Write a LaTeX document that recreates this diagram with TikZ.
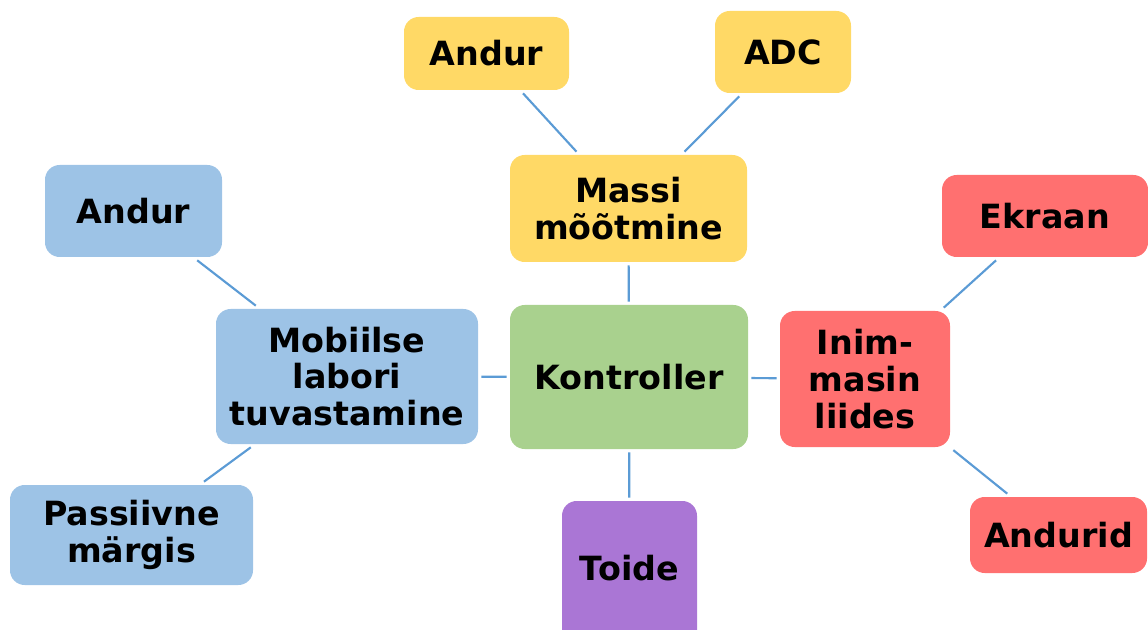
\documentclass[tikz,border=0pt]{standalone}
\usepackage{fontspec}
\setmainfont{DejaVu Sans}
\usepackage{tikz}
\usetikzlibrary{shapes}

\definecolor{kollane}{HTML}{FFD966}
\definecolor{sinine}{HTML}{9DC3E6}
\definecolor{roheline}{HTML}{A9D18E}
\definecolor{punane}{HTML}{FF7070}
\definecolor{lilla}{HTML}{AA76D5}
\definecolor{joonevarv}{HTML}{5B9BD5}

\tikzstyle{plokk}=[rectangle,rounded corners=11pt,inner sep=0pt,outer sep=2.5pt,
        align=center,text=black,font=\fontsize{25}{27.5}\selectfont\bfseries]
\tikzstyle{mass}=[plokk,fill=kollane]
\tikzstyle{mobiil}=[plokk,fill=sinine]
\tikzstyle{kesk}=[plokk,fill=roheline]
\tikzstyle{liides}=[plokk,fill=punane]
\tikzstyle{toide}=[plokk,fill=lilla]
\tikzstyle{seos}=[draw=joonevarv,line width=1.6pt]

\begin{document}
\begin{tikzpicture}[x=0.75pt,y=-0.75pt]
\useasboundingbox (0,0) rectangle (1148,630);
\node[kesk,minimum width=178.5pt,minimum height=108pt] (kontroller) at (629,377) {Kontroller};
\node[mass,minimum width=177.75pt,minimum height=80.25pt] (massi) at (628.5,208.5) {Massi\\mõõtmine};
\node[mass,minimum width=123.75pt,minimum height=54.75pt] (andurM) at (486.5,53.5) {Andur};
\node[mass,minimum width=102pt,minimum height=61.5pt] (adc) at (783,52) {ADC};
\node[mobiil,minimum width=196.5pt,minimum height=101.25pt] (mobiilse) at (347,376.5) {Mobiilse\\labori\\tuvastamine};
\node[mobiil,minimum width=132.75pt,minimum height=69pt] (andurL) at (133.5,211) {Andur};
\node[mobiil,minimum width=182.25pt,minimum height=75pt] (passiivne) at (131.5,535) {Passiivne\\märgis};
\node[liides,minimum width=127.5pt,minimum height=102pt] (inim) at (865,379) {Inim-\\masin\\liides};
\node[liides,minimum width=154.5pt,minimum height=61.5pt] (ekraan) at (1045,216) {Ekraan};
\node[liides,minimum width=132.75pt,minimum height=57pt] (andurid) at (1058.5,535) {Andurid};
\node[toide,minimum width=101.25pt,minimum height=120pt,text depth=19.5pt] (toide) at (629.5,581) {Toide};
%Seosed
\draw[seos] (andurM) -- (massi);
\draw[seos] (adc) -- (massi);
\draw[seos] (massi) -- (kontroller);
\draw[seos] (andurL) -- (mobiilse);
\draw[seos] (mobiilse) -- (passiivne);
\draw[seos] (mobiilse) -- (kontroller);
\draw[seos] (kontroller) -- (inim);
\draw[seos] (inim) -- (ekraan);
\draw[seos] (inim) -- (andurid);
\draw[seos] (kontroller) -- (toide);
\end{tikzpicture}
\end{document}
